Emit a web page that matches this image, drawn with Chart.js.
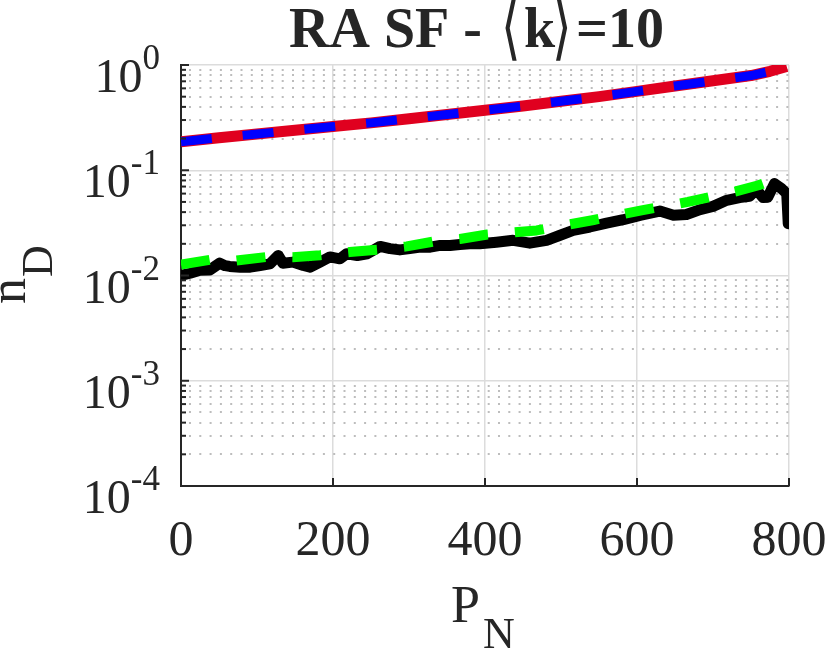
<!DOCTYPE html>
<html>
<head>
<meta charset="utf-8">
<script src="https://cdn.jsdelivr.net/npm/chart.js@4.4.1/dist/chart.umd.min.js"></script>
<style>
  body { margin: 0; background: #fff; }
  #wrap { width: 830px; height: 654px; }
</style>
</head>
<body>
<div id="wrap"><canvas id="nd-chart" width="830" height="654"></canvas></div>
<script>
const chartEl = document.querySelector("#nd-chart");

// red / blue curves (same values, blue drawn dashed on top)
const smoothP = [0, 50, 100, 150, 200, 250, 300, 350, 400, 450, 500, 550, 600, 650, 700, 750, 775, 797];
const smoothN = [0.186, 0.204, 0.221, 0.240, 0.260, 0.282, 0.309, 0.339, 0.372, 0.407, 0.452, 0.501, 0.562, 0.631, 0.708, 0.794, 0.871, 0.966];

// green dashed curve
const greenP = [0, 38, 73, 113, 147, 183, 222, 258, 297, 332, 367, 403, 468, 543, 606, 667, 730, 760, 793];
const greenN = [0.0127, 0.0141, 0.0139, 0.0150, 0.0149, 0.0156, 0.0167, 0.0176, 0.0189, 0.0210, 0.0222, 0.0245, 0.0268, 0.0337, 0.0416, 0.0500, 0.0630, 0.0720, 0.0880];

// black noisy curve
const blackP = [0, 12, 25, 38, 51, 58, 64, 78, 91, 104, 117, 128, 134, 147, 161, 170, 183, 196, 209, 218,
  232, 245, 262, 275, 288, 301, 315, 328, 341, 354, 367, 380, 393, 415, 437, 459, 481, 498, 516, 538,
  560, 582, 604, 630, 648, 665, 683, 700, 718, 735, 748, 757, 766, 772, 781, 790, 797, 799];
const blackN = [0.0100, 0.0105, 0.0112, 0.0113, 0.0131, 0.0124, 0.0122, 0.0120, 0.0120, 0.01245, 0.0129, 0.0155, 0.0131, 0.0134, 0.01245, 0.0120, 0.0134, 0.0150, 0.0144, 0.0161,
  0.0155, 0.0161, 0.0189, 0.0180, 0.0175, 0.0180, 0.0186, 0.0186, 0.0193, 0.0193, 0.0197, 0.0200, 0.0200, 0.0207, 0.0216, 0.0203, 0.0216, 0.0240, 0.0268, 0.0289,
  0.0315, 0.0339, 0.0373, 0.0410, 0.0373, 0.0380, 0.0423, 0.0454, 0.0518, 0.0550, 0.0565, 0.0655, 0.0550, 0.0555, 0.0747, 0.0670, 0.0600, 0.0310];

const xTicks = [0, 200, 400, 600, 800];
const yTicks = [1e-4, 1e-3, 1e-2, 1e-1, 1];
const yTickExp = ["-4", "-3", "-2", "-1", "0"];

// title pieces: "RA SF - ⟨k⟩=10"
const titleParts = ["RA SF -", "\u27E8", "k", "\u27E9", "=10"];
const textColor = "#262626";
const serif = "'Liberation Serif', 'Times New Roman', serif";

const toPoints = (xs, ys) => xs.map((x, i) => ({ x: x, y: ys[i] }));

const matlabAxes = {
  id: "matlabAxes",
  beforeDatasetsDraw(chart) {
    const { ctx, chartArea, scales } = chart;
    const y = scales.y;
    ctx.save();
    // dotted minor grid
    ctx.strokeStyle = "#bdbdbd";
    ctx.lineWidth = 2;
    ctx.setLineDash([2, 8.3]);
    for (let e = -4; e < 0; e++) {
      for (let k = 2; k <= 9; k++) {
        const py = Math.round(y.getPixelForValue(k * Math.pow(10, e)));
        ctx.beginPath();
        ctx.moveTo(chartArea.left + 8, py);
        ctx.lineTo(chartArea.right, py);
        ctx.stroke();
      }
    }
    ctx.restore();
  },
  afterDraw(chart) {
    const { ctx, chartArea, scales } = chart;
    const x = scales.x;
    const y = scales.y;
    ctx.save();
    ctx.strokeStyle = textColor;
    ctx.lineWidth = 2;
    ctx.setLineDash([]);
    // inward ticks
    for (let e = -4; e <= 0; e++) {
      const py = y.getPixelForValue(Math.pow(10, e));
      ctx.beginPath();
      ctx.moveTo(chartArea.left, py);
      ctx.lineTo(chartArea.left + 8, py);
      ctx.stroke();
      if (e < 0) {
        for (let k = 2; k <= 9; k++) {
          const my = y.getPixelForValue(k * Math.pow(10, e));
          ctx.beginPath();
          ctx.moveTo(chartArea.left, my);
          ctx.lineTo(chartArea.left + 5, my);
          ctx.stroke();
        }
      }
    }
    xTicks.forEach((v) => {
      const px = x.getPixelForValue(v);
      ctx.beginPath();
      ctx.moveTo(px, chartArea.bottom);
      ctx.lineTo(px, chartArea.bottom - 8);
      ctx.stroke();
    });

    ctx.fillStyle = textColor;
    ctx.textBaseline = "alphabetic";

    // x tick labels
    ctx.font = "50px " + serif;
    ctx.textAlign = "center";
    xTicks.forEach((v) => {
      ctx.fillText(String(v), x.getPixelForValue(v), 555);
    });

    // y tick labels 10^n
    ctx.textAlign = "left";
    yTicks.forEach((v, i) => {
      const py = y.getPixelForValue(v);
      ctx.font = "48px " + serif;
      const wBase = ctx.measureText("10").width;
      ctx.font = "35px " + serif;
      const wSup = ctx.measureText(yTickExp[i]).width;
      const x0 = 160 - wBase - wSup;
      ctx.font = "48px " + serif;
      ctx.fillText("10", x0, py + 27);
      ctx.font = "35px " + serif;
      ctx.fillText(yTickExp[i], x0 + wBase, py + 4);
    });

    // title, drawn in pieces so the angle brackets come out tall and thin
    ctx.textAlign = "left";
    ctx.font = "bold 56px " + serif;
    ctx.fillText(titleParts[0], 289, 47);
    ctx.save();
    ctx.font = "300 50px 'DejaVu Sans', sans-serif";
    ctx.translate(0, 47);
    ctx.scale(1, 1.45);
    ctx.fillText(titleParts[1], 501, 3);
    ctx.fillText(titleParts[3], 552, 3);
    ctx.restore();
    ctx.font = "bold 56px " + serif;
    ctx.fillText(titleParts[2], 524, 47);
    ctx.fillText(titleParts[4], 576, 47);

    // x label P_N
    ctx.font = "52px " + serif;
    ctx.fillText("P", 451, 622);
    const wP = ctx.measureText("P").width;
    ctx.font = "44px " + serif;
    ctx.fillText("N", 451 + wP + 3, 648);

    // y label n_D
    ctx.translate(25, 304);
    ctx.rotate(-Math.PI / 2);
    ctx.font = "52px " + serif;
    ctx.fillText("n", 0, 0);
    const wn = ctx.measureText("n").width;
    ctx.font = "44px " + serif;
    ctx.fillText("D", wn + 1, 27);
    ctx.restore();
  },
};

const renderChart = () => {
  const lineBase = {
    pointRadius: 0,
    tension: 0,
    fill: false,
    borderCapStyle: "butt",
    borderJoinStyle: "round",
  };
  new Chart(chartEl, {
    type: "line",
    data: {
      datasets: [
        { ...lineBase, label: "blue", data: toPoints(smoothP, smoothN), borderColor: "#0000ff", borderWidth: 9, borderDash: [31, 31] },
        { ...lineBase, label: "red", data: toPoints(smoothP, smoothN), borderColor: "#e0001f", borderWidth: 11 },
        { ...lineBase, label: "green", data: toPoints(greenP, greenN), borderColor: "#00ff00", borderWidth: 10, borderDash: [29, 27] },
        { ...lineBase, label: "black", data: toPoints(blackP, blackN), borderColor: "#000000", borderWidth: 11, borderCapStyle: "round" },
      ],
    },
    options: {
      responsive: false,
      animation: false,
      devicePixelRatio: 1,
      layout: { padding: { left: 181, right: 41, top: 65, bottom: 168 } },
      plugins: { legend: { display: false }, tooltip: { enabled: false } },
      scales: {
        x: {
          type: "linear",
          min: 0,
          max: 800,
          afterBuildTicks: (scale) => { scale.ticks = xTicks.map((v) => ({ value: v })); },
          ticks: { display: false },
          grid: { color: "#dcdcdc", lineWidth: 1.5, drawTicks: false },
          border: { display: true, color: textColor, width: 2 },
        },
        y: {
          type: "logarithmic",
          min: 1e-4,
          max: 1,
          afterBuildTicks: (scale) => { scale.ticks = yTicks.map((v) => ({ value: v })); },
          ticks: { display: false },
          grid: { color: "#dcdcdc", lineWidth: 1.5, drawTicks: false },
          border: { display: true, color: textColor, width: 2 },
        },
      },
    },
    plugins: [matlabAxes],
  });
};

document.addEventListener("DOMContentLoaded", () => {
  renderChart();
});
</script>
</body>
</html>
